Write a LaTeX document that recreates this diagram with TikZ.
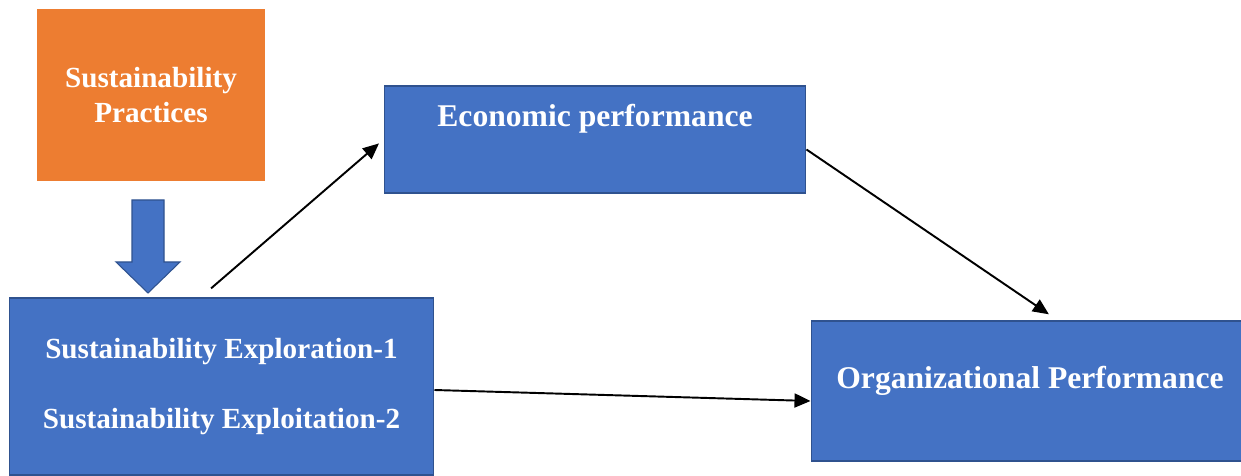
\documentclass[tikz,border=0pt]{standalone}
\usepackage{fontspec}
\setmainfont{Liberation Serif}
\usetikzlibrary{arrows.meta}

\definecolor{boxblue}{HTML}{4472C4}
\definecolor{boxedge}{HTML}{2F528F}
\definecolor{boxorange}{HTML}{ED7D31}

\begin{document}
\begin{tikzpicture}[x=0.02cm, y=-0.02cm,
  box/.style={draw=boxedge, line width=0.6pt, fill=boxblue, text=white,
    font=\fontsize{18}{19.5}\selectfont\bfseries, align=center, inner sep=0pt},
  smallbox/.style={box, font=\fontsize{16.6}{19.5}\selectfont\bfseries},
  arr/.style={-{Triangle[length=0.32cm, width=0.28cm]}, line width=1.1pt, black}]
  \useasboundingbox[fill=white] (0,0) rectangle (1241,476);

  % Nodes
  \node[smallbox, draw=none, fill=boxorange, minimum width=4.56cm, minimum height=3.44cm] (sp) at (151,95) {Sustainability\\Practices};
  \node[box, minimum width=8.44cm, text height=0.8cm, text depth=1.34cm] (ep) at (595,139.5) {Economic performance};
  \node[smallbox, minimum width=8.5cm, minimum height=3.54cm] (se) at (221.5,386.5) {Sustainability Exploration-1\\[20pt]Sustainability Exploitation-2};
  \node[box, minimum width=8.76cm, text height=1.34cm, text depth=1.46cm] (op) at (1030,391) {Organizational Performance};

  % Block arrow
  \draw[draw=boxedge, line width=0.6pt, fill=boxblue]
    (132,200) -- (164,200) -- (164,262) -- (180,262) -- (148,293) -- (116,262) -- (132,262) -- cycle;

  % Paths
  \draw[arr, shorten <=0.28cm, shorten >=0.12cm] ([xshift=-0.42cm]se.north) -- (ep.west);
  \draw[arr, shorten >=0.22cm] ([yshift=-0.2cm]ep.east) -- ([xshift=0.56cm]op.north);
  \draw[arr] ([yshift=-0.07cm]se.east) -- ([yshift=-0.2cm]op.west);
\end{tikzpicture}
\end{document}
